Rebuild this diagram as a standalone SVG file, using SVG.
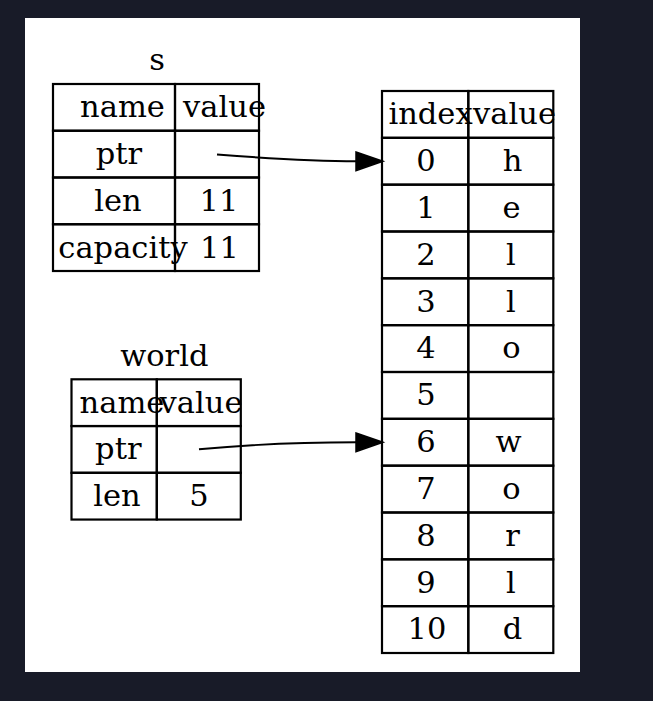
<svg xmlns="http://www.w3.org/2000/svg" width="653" height="701" viewBox="0 0 653 701">
<defs>
<style>
.cell{fill:none;stroke:#000;stroke-width:2.2}
.t{font-family:"DejaVu Serif","Liberation Serif",serif;font-size:30.5px;fill:#000;text-anchor:middle}
.edge{fill:none;stroke:#000;stroke-width:1.9}
</style>
<marker id="arrow" markerUnits="userSpaceOnUse" markerWidth="30" markerHeight="22" refX="1" refY="9.3" orient="auto" overflow="visible">
<path d="M0,0 L27,9.3 L0,18.6 Z" fill="#000" stroke="#000" stroke-width="1.5"/>
</marker>
</defs>
<rect x="0" y="0" width="653" height="701" fill="#181b28"/>
<rect x="25" y="18" width="555" height="654" fill="#fff"/>

<g id="s">
<text class="t" x="157" y="70">s</text>
<rect class="cell" x="53" y="84" width="122" height="46.75"/>
<rect class="cell" x="175" y="84" width="84" height="46.75"/>
<rect class="cell" x="53" y="130.75" width="122" height="46.75"/>
<rect class="cell" x="175" y="130.75" width="84" height="46.75"/>
<rect class="cell" x="53" y="177.5" width="122" height="46.75"/>
<rect class="cell" x="175" y="177.5" width="84" height="46.75"/>
<rect class="cell" x="53" y="224.25" width="122" height="46.75"/>
<rect class="cell" x="175" y="224.25" width="84" height="46.75"/>
<text class="t" x="122.5" y="117.3">name</text>
<text class="t" x="224.5" y="117.3">value</text>
<text class="t" x="119" y="164">ptr</text>
<text class="t" x="118" y="210.7">len</text>
<text class="t" x="219" y="210.7">11</text>
<text class="t" x="123" y="257.5">capacity</text>
<text class="t" x="219.5" y="257.5">11</text>
</g>

<g id="world">
<text class="t" x="164.3" y="366">world</text>
<rect class="cell" x="71.5" y="379.3" width="85.3" height="46.75"/>
<rect class="cell" x="156.8" y="379.3" width="84" height="46.75"/>
<rect class="cell" x="71.5" y="426.05" width="85.3" height="46.75"/>
<rect class="cell" x="156.8" y="426.05" width="84" height="46.75"/>
<rect class="cell" x="71.5" y="472.8" width="85.3" height="46.75"/>
<rect class="cell" x="156.8" y="472.8" width="84" height="46.75"/>
<text class="t" x="122" y="412.5">name</text>
<text class="t" x="201" y="412.5">value</text>
<text class="t" x="118.3" y="459.2">ptr</text>
<text class="t" x="117" y="506">len</text>
<text class="t" x="199" y="506">5</text>
</g>

<g id="heap">
<rect class="cell" x="382" y="91" width="86.3" height="46.83"/>
<rect class="cell" x="468.3" y="91" width="85" height="46.83"/>
<rect class="cell" x="382" y="137.83" width="86.3" height="46.83"/>
<rect class="cell" x="468.3" y="137.83" width="85" height="46.83"/>
<rect class="cell" x="382" y="184.67" width="86.3" height="46.83"/>
<rect class="cell" x="468.3" y="184.67" width="85" height="46.83"/>
<rect class="cell" x="382" y="231.5" width="86.3" height="46.83"/>
<rect class="cell" x="468.3" y="231.5" width="85" height="46.83"/>
<rect class="cell" x="382" y="278.33" width="86.3" height="46.83"/>
<rect class="cell" x="468.3" y="278.33" width="85" height="46.83"/>
<rect class="cell" x="382" y="325.17" width="86.3" height="46.83"/>
<rect class="cell" x="468.3" y="325.17" width="85" height="46.83"/>
<rect class="cell" x="382" y="372" width="86.3" height="46.83"/>
<rect class="cell" x="468.3" y="372" width="85" height="46.83"/>
<rect class="cell" x="382" y="418.83" width="86.3" height="46.83"/>
<rect class="cell" x="468.3" y="418.83" width="85" height="46.83"/>
<rect class="cell" x="382" y="465.67" width="86.3" height="46.83"/>
<rect class="cell" x="468.3" y="465.67" width="85" height="46.83"/>
<rect class="cell" x="382" y="512.5" width="86.3" height="46.83"/>
<rect class="cell" x="468.3" y="512.5" width="85" height="46.83"/>
<rect class="cell" x="382" y="559.33" width="86.3" height="46.83"/>
<rect class="cell" x="468.3" y="559.33" width="85" height="46.83"/>
<rect class="cell" x="382" y="606.17" width="86.3" height="46.83"/>
<rect class="cell" x="468.3" y="606.17" width="85" height="46.83"/>
<text class="t" x="430.5" y="124.3">index</text>
<text class="t" x="514.5" y="124.3">value</text>
<text class="t" x="426" y="171">0</text>
<text class="t" x="512.5" y="171">h</text>
<text class="t" x="426" y="217.9">1</text>
<text class="t" x="511.5" y="217.9">e</text>
<text class="t" x="426" y="264.7">2</text>
<text class="t" x="511" y="264.7">l</text>
<text class="t" x="426" y="311.5">3</text>
<text class="t" x="511" y="311.5">l</text>
<text class="t" x="426" y="358.4">4</text>
<text class="t" x="511.5" y="358.4">o</text>
<text class="t" x="426" y="405.2">5</text>
<text class="t" x="426" y="452">6</text>
<text class="t" x="508.5" y="452">w</text>
<text class="t" x="426" y="498.9">7</text>
<text class="t" x="511.5" y="498.9">o</text>
<text class="t" x="426" y="545.7">8</text>
<text class="t" x="512.5" y="545.7">r</text>
<text class="t" x="426" y="592.5">9</text>
<text class="t" x="511" y="592.5">l</text>
<text class="t" x="427" y="639.4">10</text>
<text class="t" x="512.5" y="639.4">d</text>
</g>

<g id="connectors">
<path class="edge" d="M217,154.5 C262,158 305,161.3 357,161.3" marker-end="url(#arrow)"/>
<path class="edge" d="M199,449.3 C250,444.5 300,442.3 357,442.3" marker-end="url(#arrow)"/>
</g>
</svg>
